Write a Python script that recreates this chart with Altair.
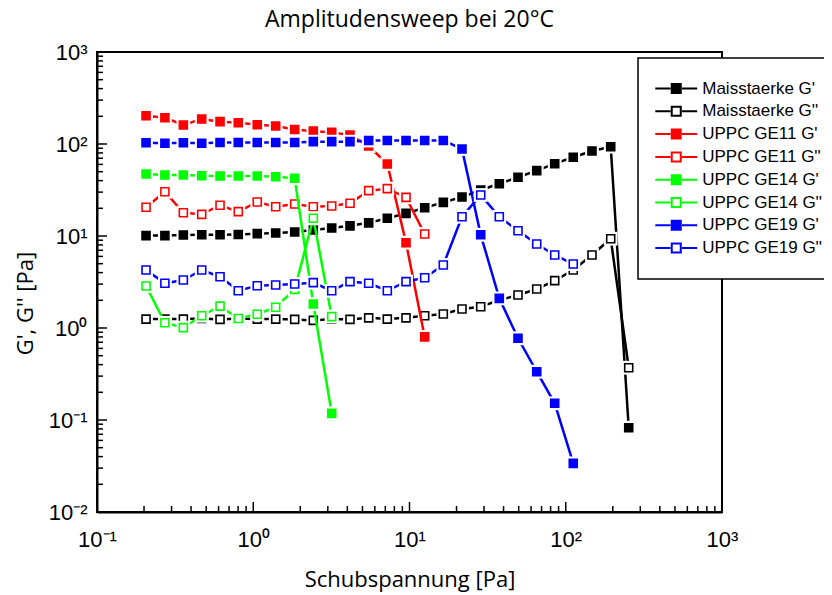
import altair as alt
import pandas as pd

# shared x grid (shear stress, Pa)
stress = [0.206, 0.272, 0.357, 0.468, 0.613, 0.802, 1.061, 1.392, 1.842, 2.423,
          3.178, 4.161, 5.48, 7.21, 9.50, 12.51, 16.46, 21.68, 28.56, 37.56,
          49.48, 65.2, 85.0, 111.7, 147.2, 194.0, 252.9]

mais_g1 = [10.1, 10.1, 10.25, 10.3, 10.3, 10.4, 10.6, 10.8, 11.05, 11.6, 12.2, 12.9, 13.9,
           15.6, 17.6, 20.3, 23.2, 26.5, 31.6, 37.0, 43.5, 51.3, 61.1, 71.7, 83.9, 93.5, 0.0825]
mais_g2 = [1.25, 1.25, 1.25, 1.27, 1.24, 1.27, 1.25, 1.25, 1.24, 1.21, 1.25, 1.24, 1.29,
           1.25, 1.29, 1.36, 1.42, 1.61, 1.70, 2.01, 2.28, 2.65, 3.27, 4.27, 6.22, 9.35, 0.37]
ge11_g1 = [203, 193, 161, 187, 175, 170, 162, 157, 144, 138, 134, 125, 95, 60.6, 8.46, 0.80]
ge11_g2 = [20.5, 30.3, 17.9, 17.2, 21.6, 18.4, 23.4, 20.8, 22.3, 20.8, 21.2, 22.7, 31.1, 32.7, 26.3, 10.5]
ge14_g1 = [47.2, 46.0, 46.0, 45.2, 44.9, 44.9, 44.9, 44.1, 42.4, 1.82, 0.118]
ge14_g2 = [2.86, 1.14, 1.01, 1.36, 1.73, 1.27, 1.41, 1.68, 2.63, 15.6, 1.33]
ge19_g1 = [103, 102, 103, 102, 104, 104, 104, 104, 104, 106, 106, 106, 109, 109, 109, 109, 109,
           88.3, 10.3, 2.10, 0.773, 0.335, 0.152, 0.0338]
ge19_g2 = [4.27, 3.06, 3.32, 4.27, 3.61, 2.54, 2.88, 2.93, 3.01, 3.11, 2.54, 3.19, 3.06, 2.54,
           3.19, 3.52, 4.84, 16.2, 27.9, 16.2, 11.4, 8.18, 6.22, 4.96]

series_names = ["Maisstaerke G'", "Maisstaerke G''", "UPPC GE11 G'", "UPPC GE11 G''",
                "UPPC GE14 G'", "UPPC GE14 G''", "UPPC GE19 G'", "UPPC GE19 G''"]
series_values = [mais_g1, mais_g2, ge11_g1, ge11_g2, ge14_g1, ge14_g2, ge19_g1, ge19_g2]
line_colors = ["#000000", "#000000", "#ff0000", "#ff0000", "#00ff00", "#00ff00", "#0000ff", "#0000ff"]
filled = [True, False, True, False, True, False, True, False]
fill_colors = [c if f else "#ffffff" for c, f in zip(line_colors, filled)]

chart_title = "Amplitudensweep bei 20°C"

x_major = [0.1, 1, 10, 100, 1000]
y_major = [0.01, 0.1, 1, 10, 100, 1000]
x_minor = [m * 10.0 ** e for e in range(-1, 3) for m in range(2, 10)]
y_minor = [m * 10.0 ** e for e in range(-2, 3) for m in range(2, 10)]

rows = []
for name, vals in zip(series_names, series_values):
    for xv, yv in zip(stress, vals):
        rows.append({"series": name, "stress": xv, "value": yv})
df = pd.DataFrame(rows)

W, H = 625, 460

x_label = ("datum.value == 0.1 ? '10⁻¹' : datum.value == 1 ? '10⁰' : datum.value == 10 ? '10¹' : "
           "datum.value == 100 ? '10²' : '10³'")
y_label = ("datum.value == 0.01 ? '10⁻²' : datum.value == 0.1 ? '10⁻¹' : datum.value == 1 ? '10⁰' : "
           "datum.value == 10 ? '10¹' : datum.value == 100 ? '10²' : '10³'")

xenc = alt.X("stress:Q",
             scale=alt.Scale(type="log", domain=[0.1, 1000], nice=False),
             axis=alt.Axis(values=x_major, labelExpr=x_label, title="Schubspannung [Pa]",
                           ticks=False, grid=False, labelPadding=17, labelFlush=False,
                           labelOverlap=False, titleX=W / 2, titleY=74,
                           titleBaseline="alphabetic", titleAlign="center"))
yenc = alt.Y("value:Q",
             scale=alt.Scale(type="log", domain=[0.01, 1000], nice=False),
             axis=alt.Axis(values=y_major, labelExpr=y_label, title="G', G'' [Pa]",
                           ticks=False, grid=False, labelPadding=10, labelFlush=False,
                           labelOverlap=False, titleAngle=270, titleX=-65, titleY=251,
                           titleBaseline="alphabetic", titleAlign="center"))

legend_path = "M-4,0H-1.1M1.1,0H4M-0.86,-0.86H0.86V0.86H-0.86Z"
legend = alt.Legend(orient="none", legendX=541, legendY=6, title=None, padding=22,
                    strokeColor="black", fillColor="white", symbolType=legend_path,
                    symbolSize=110, symbolStrokeWidth=2, symbolOffset=7.75, labelOffset=17.5,
                    labelFont="Liberation Sans", labelFontSize=17, labelColor="black",
                    rowPadding=3.8, labelLimit=300)

stroke_scale = alt.Scale(domain=series_names, range=line_colors)
fill_scale = alt.Scale(domain=series_names, range=fill_colors)

layers = []
# inward ticks
xt_major = pd.DataFrame({"stress": x_major})
xt_minor = pd.DataFrame({"stress": x_minor})
yt_major = pd.DataFrame({"value": y_major})
yt_minor = pd.DataFrame({"value": y_minor})
layers.append(alt.Chart(xt_major).mark_rule(color="black", strokeWidth=1.5).encode(
    x=xenc, y=alt.value(H), y2=alt.value(H - 10)))
layers.append(alt.Chart(xt_minor).mark_rule(color="black", strokeWidth=1.5).encode(
    x=xenc, y=alt.value(H), y2=alt.value(H - 6)))
layers.append(alt.Chart(yt_major).mark_rule(color="black", strokeWidth=1.5).encode(
    y=yenc, x=alt.value(0), x2=alt.value(10)))
layers.append(alt.Chart(yt_minor).mark_rule(color="black", strokeWidth=1.5).encode(
    y=yenc, x=alt.value(0), x2=alt.value(6)))

for name, col in zip(series_names, line_colors):
    sub = df[df["series"] == name]
    base = alt.Chart(sub)
    layers.append(base.mark_line(color=col, strokeWidth=2.5).encode(x=xenc, y=yenc))
    layers.append(base.mark_point(shape="square", filled=True, color="white", size=190,
                                  opacity=1).encode(x=xenc, y=yenc))
    layers.append(base.mark_point(shape="square", filled=False, size=64, strokeWidth=1.6,
                                  opacity=1).encode(
        x=xenc, y=yenc,
        stroke=alt.Stroke("series:N", scale=stroke_scale, legend=legend),
        fill=alt.Fill("series:N", scale=fill_scale, legend=legend)))

# chart title as text
title_df = pd.DataFrame({"t": [chart_title]})
layers.append(alt.Chart(title_df).mark_text(font="Open Sans", fontSize=23, color="black",
                                            align="center", baseline="alphabetic").encode(
    text="t:N", x=alt.value(W / 2), y=alt.value(-25)))

chart = alt.layer(*layers).properties(
    width=W, height=H,
    autosize=alt.AutoSizeParams(type="none"),
    padding={"left": 89, "top": 44, "right": 102, "bottom": 83},
).configure_view(stroke="black", strokeWidth=2).configure_axis(
    domainColor="black", domainWidth=2, labelFont="Liberation Sans", labelFontSize=22,
    labelColor="black", titleFont="Open Sans", titleFontSize=22, titleFontWeight="normal",
    titleColor="black").configure_legend(strokeWidth=1.5)

chart.save("out.html", embed_options={"renderer": "svg", "actions": False})
